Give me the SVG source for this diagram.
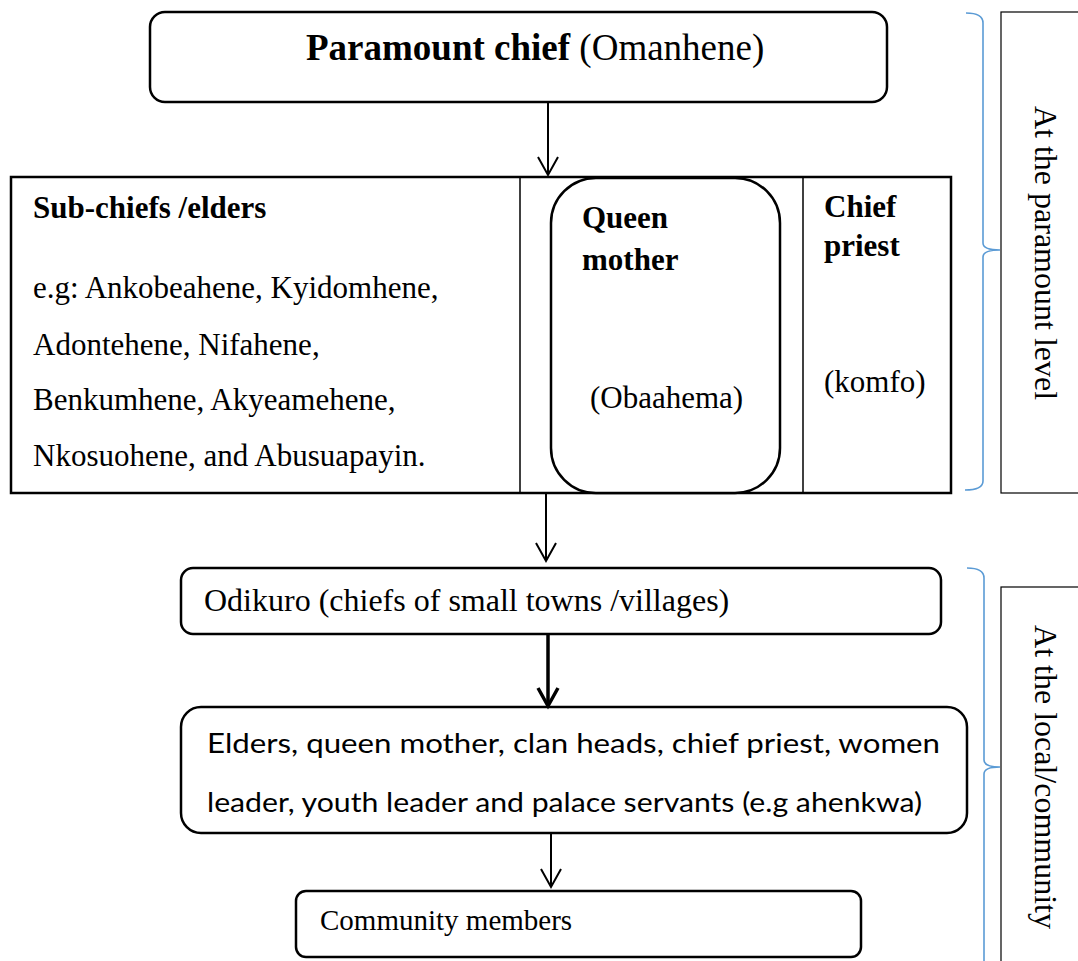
<svg xmlns="http://www.w3.org/2000/svg" width="1078" height="961" viewBox="0 0 1078 961">
<defs>
<style>
.box{fill:#fff;stroke:#000;stroke-width:2.5}
.thin{fill:none;stroke:#000;stroke-width:1.5}
.lab{fill:#fff;stroke:#000;stroke-width:1.2}
.brace{fill:none;stroke:#5B9BD5;stroke-width:1.6}
.serif{font-family:"Liberation Serif","Times New Roman",serif;fill:#000}
.sans{font-family:Lato,"Open Sans","Noto Sans",sans-serif;fill:#000}
.b{font-weight:bold}
.conn{stroke:#000;stroke-width:2;fill:none}
.conn3{stroke:#000;stroke-width:3.5;fill:none}
</style>
<marker id="ah" markerUnits="userSpaceOnUse" markerWidth="26" markerHeight="26" refX="20" refY="12" orient="auto" viewBox="0 0 26 26">
<path d="M2,2 L20,12 L2,22" fill="none" stroke="#000" stroke-width="2"/>
</marker>
<marker id="ah3" markerUnits="userSpaceOnUse" markerWidth="26" markerHeight="26" refX="20" refY="12" orient="auto" viewBox="0 0 26 26">
<path d="M2,2 L20,12 L2,22" fill="none" stroke="#000" stroke-width="3.5"/>
</marker>
</defs>
<rect width="1078" height="961" fill="#fff"/>

<g id="paramount">
<rect class="box" x="150" y="12" width="737" height="90" rx="15"/>
<text class="serif" x="306" y="60" font-size="37"><tspan class="b">Paramount chief</tspan> (Omanhene)</text>
</g>

<g id="council">
<rect class="box" x="11" y="177" width="940" height="316"/>
<line class="thin" x1="520" y1="177" x2="520" y2="493"/>
<line class="thin" x1="803" y1="177" x2="803" y2="493"/>
</g>

<g id="subchiefs">
<text class="serif b" x="33" y="218" font-size="31">Sub-chiefs /elders</text>
<text class="serif" x="33" y="298" font-size="31">e.g: Ankobeahene, Kyidomhene,</text>
<text class="serif" x="33" y="355" font-size="31">Adontehene, Nifahene,</text>
<text class="serif" x="33" y="410" font-size="31">Benkumhene, Akyeamehene,</text>
<text class="serif" x="33" y="466" font-size="31">Nkosuohene, and Abusuapayin.</text>
</g>

<g id="queenmother">
<rect class="box" x="551" y="178" width="229" height="315" rx="45" stroke-width="2"/>
<text class="serif b" x="582" y="228" font-size="31">Queen</text>
<text class="serif b" x="582" y="270" font-size="31">mother</text>
<text class="serif" x="590" y="408" font-size="31">(Obaahema)</text>
</g>

<g id="chiefpriest">
<text class="serif b" x="824" y="217" font-size="31">Chief</text>
<text class="serif b" x="824" y="256" font-size="31">priest</text>
<text class="serif" x="824" y="392" font-size="31">(komfo)</text>
</g>

<g id="odikuro">
<rect class="box" x="181" y="568" width="760" height="66" rx="12" stroke-width="2"/>
<text class="serif" x="204" y="611" font-size="32">Odikuro (chiefs of small towns /villages)</text>
</g>

<g id="elders">
<rect class="box" x="181" y="707" width="786" height="126" rx="20"/>
<text class="sans" x="207" y="753" font-size="27" textLength="733" lengthAdjust="spacingAndGlyphs">Elders, queen mother, clan heads, chief priest, women</text>
<text class="sans" x="207" y="812" font-size="27" textLength="715" lengthAdjust="spacingAndGlyphs">leader, youth leader and palace servants (e.g ahenkwa)</text>
</g>

<g id="community">
<rect class="box" x="296" y="891" width="565" height="66" rx="10" stroke-width="2"/>
<text class="serif" x="320" y="930" font-size="29">Community members</text>
</g>

<g id="level-paramount">
<path class="brace" d="M966,13 Q983,13 983,23 L983,243 Q983,250 1000,250 Q983,250 983,257 L983,481 Q983,490 965,490"/>
<rect class="lab" x="1001" y="12" width="100" height="481"/>
<text class="serif" transform="translate(1035,253) rotate(90)" text-anchor="middle" font-size="32">At the paramount level</text>
</g>

<g id="level-local">
<path class="brace" d="M967,568 Q984,568 984,578 L984,760 Q984,767 1000,767 Q984,767 984,774 L984,965"/>
<rect class="lab" x="1001" y="587" width="100" height="400"/>
<text class="serif" transform="translate(1035,777) rotate(90)" text-anchor="middle" font-size="32">At the local/community</text>
</g>

<g id="connectors">
<line class="conn" x1="548" y1="103" x2="548" y2="175" marker-end="url(#ah)"/>
<line class="conn" x1="546" y1="494" x2="546" y2="561" marker-end="url(#ah)"/>
<line class="conn3" x1="548" y1="635" x2="548" y2="706" marker-end="url(#ah3)"/>
<line class="conn" x1="551" y1="834" x2="551" y2="887" marker-end="url(#ah)"/>
</g>
</svg>
